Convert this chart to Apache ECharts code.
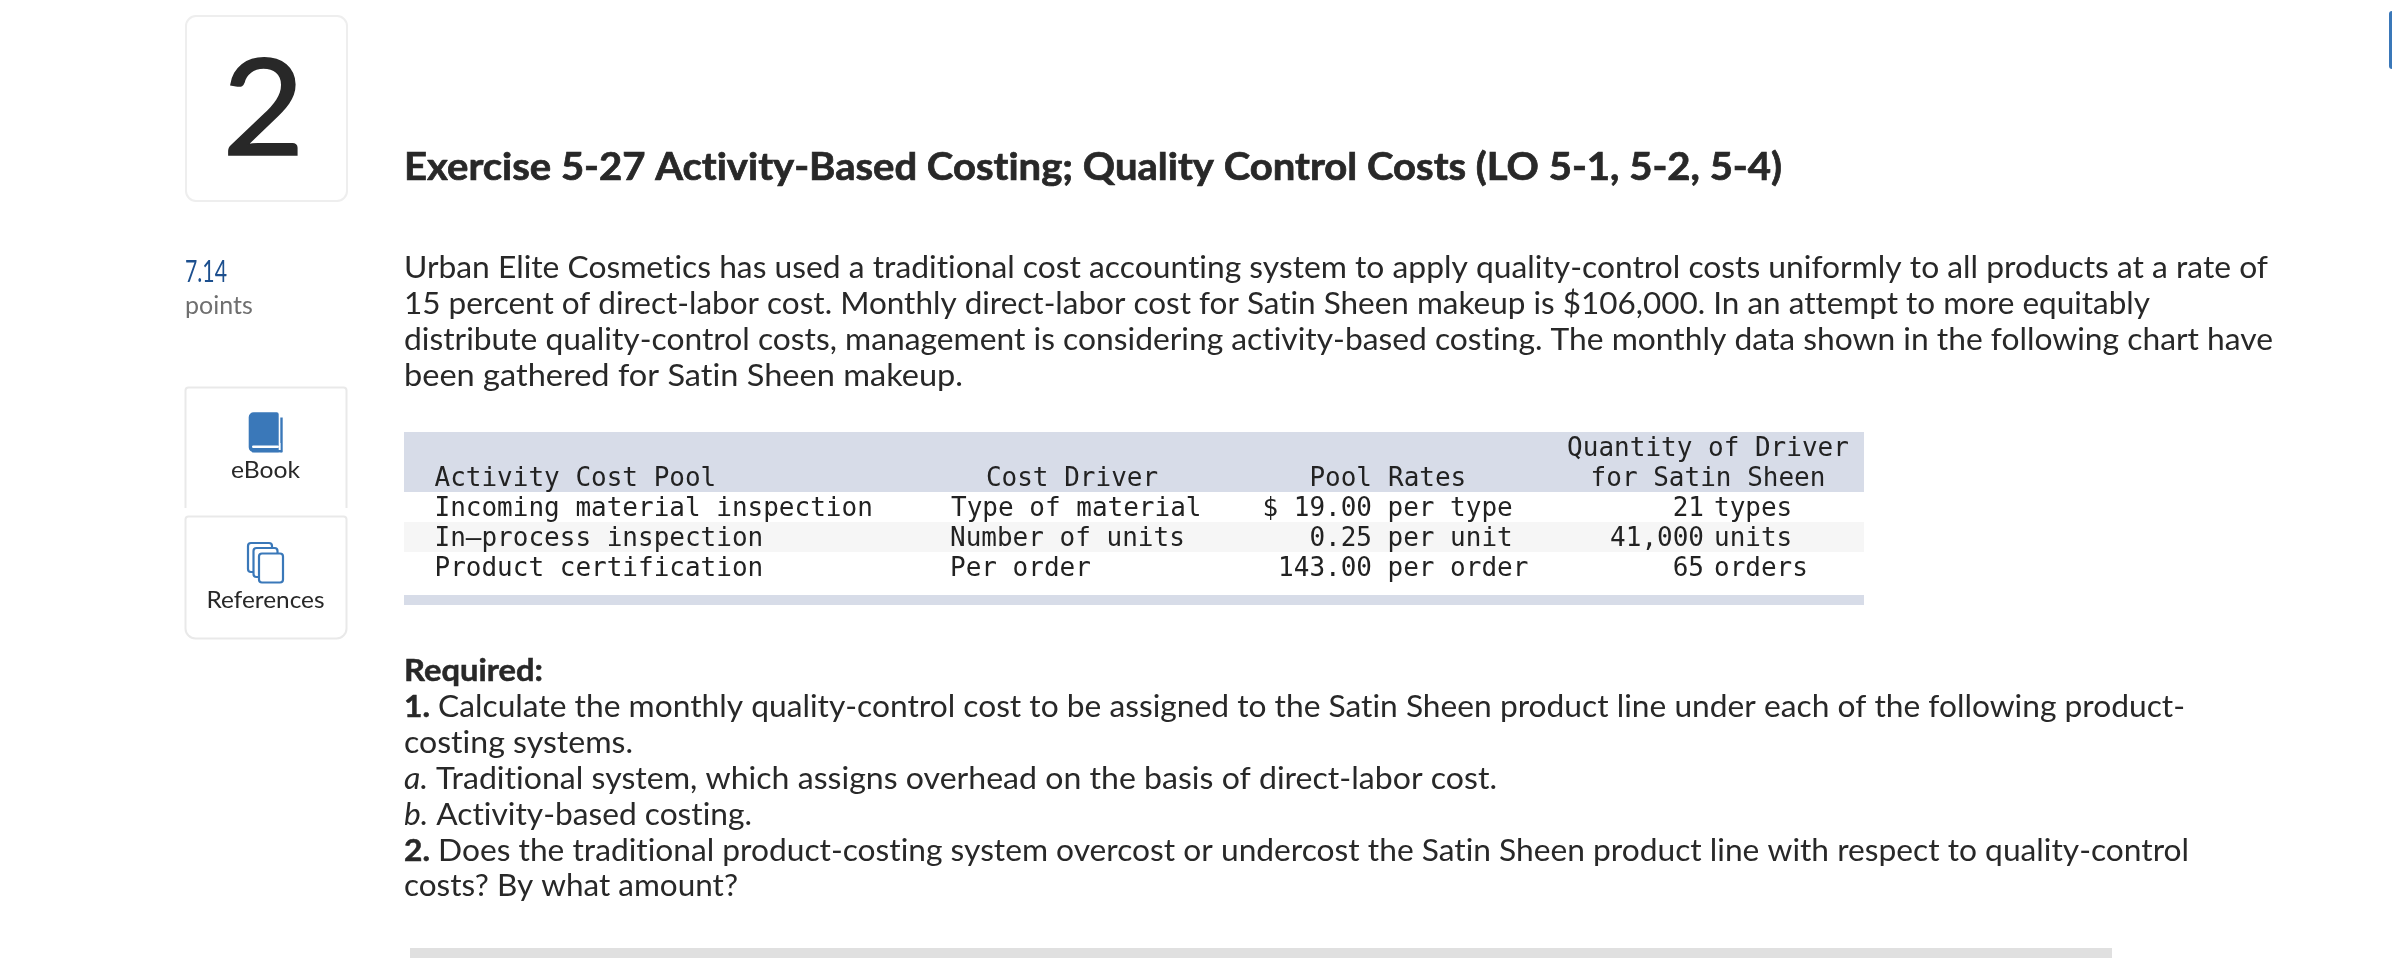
<!DOCTYPE html>
<html><head><meta charset="utf-8">
<style>html,body{margin:0;padding:0;background:#fff}#c{width:2392px;height:958px}</style>
<script src="https://cdn.jsdelivr.net/npm/echarts@6/dist/echarts.min.js"></script>
</head><body><div id="c"></div>
<script>
const questionNumber = '2';
const pointsValue = '7.14';
const pointsLabel = 'points';
const heading = 'Exercise 5-27 Activity-Based Costing; Quality Control Costs (LO 5-1, 5-2, 5-4)';
const bodyLines = [
  'Urban Elite Cosmetics has used a traditional cost accounting system to apply quality-control costs uniformly to all products at a rate of',
  '15 percent of direct-labor cost. Monthly direct-labor cost for Satin Sheen makeup is $106,000. In an attempt to more equitably',
  'distribute quality-control costs, management is considering activity-based costing. The monthly data shown in the following chart have',
  'been gathered for Satin Sheen makeup.'
];
const requiredLines = [
  [['Required:', 'b']],
  [['1.', 'b'], [' Calculate the monthly quality-control cost to be assigned to the Satin Sheen product line under each of the following product-', 'r']],
  [['costing systems.', 'r']],
  [['a.', 'i'], [' Traditional system, which assigns overhead on the basis of direct-labor cost.', 'r']],
  [['b.', 'i'], [' Activity-based costing.', 'r']],
  [['2.', 'b'], [' Does the traditional product-costing system overcost or undercost the Satin Sheen product line with respect to quality-control', 'r']],
  [['costs? By what amount?', 'r']]
];
const sideLabels = ['eBook', 'References'];
const headerPool = 'Activity Cost Pool';
const headerDriver = 'Cost Driver';
const headerRates = ['Pool', 'Rates'];
const headerQuantity = ['Quantity of Driver', 'for Satin Sheen'];
const activityPools = ['Incoming material inspection', 'In\u2013process inspection', 'Product certification'];
const costDrivers = ['Type of material', 'Number of units', 'Per order'];
const poolRates = ['$ 19.00', '0.25', '143.00'];
const rateUnits = ['per type', 'per unit', 'per order'];
const driverQuantities = ['21', '41,000', '65'];
const driverUnits = ['types', 'units', 'orders'];

/* the reference's typeface has no ti/tt ligatures: switch them off for every 2d context */
const origGetContext = HTMLCanvasElement.prototype.getContext;
HTMLCanvasElement.prototype.getContext = function (t, o) {
  const c = origGetContext.call(this, t, o);
  if (c && t === '2d') c.textRendering = 'optimizeSpeed';
  return c;
};

/* layout */
const SANS = 'Lato, "Open Sans", sans-serif';
const MONO = '"DejaVu Sans Mono", monospace';
const INK = '#282828';
const BLUE = '#3a78b9';
const bodyRights = [2268, 2150, 2273, 963];
const requiredRights = [543, 2185, 633, 1497, 752, 2189, 738];
const driverX = [951, 950, 950];
const cv = document.createElement('canvas').getContext('2d');
function baseOffset(font) {
  cv.font = font;
  cv.textBaseline = 'alphabetic';
  const a = cv.measureText('x').fontBoundingBoxAscent;
  cv.textBaseline = 'middle';
  const b = cv.measureText('x').fontBoundingBoxAscent;
  cv.textBaseline = 'alphabetic';
  return a - b;
}
function widthOf(text, font) { cv.font = font; cv.textBaseline = 'alphabetic'; return cv.measureText(text).width; }
function txt(text, x, base, font, fill, align, sx, strokeW) {
  const style = { text: text, font: font, fill: fill, align: align || 'left', verticalAlign: 'middle' };
  if (strokeW) { style.stroke = fill; style.lineWidth = strokeW; }
  return { type: 'text', x: x, y: base - baseOffset(font), scaleX: sx || 1, silent: true, style: style };
}
function fitLine(segs, x0, right, base, size) {
  const fonts = { r: `400 ${size}px ${SANS}`, b: `700 ${size}px ${SANS}`, i: `italic 400 ${size}px ${SANS}` };
  const total = segs.reduce((s, g) => s + widthOf(g[0], fonts[g[1]]), 0);
  const sx = (right - x0) / total;
  let x = x0; const out = [];
  segs.forEach(g => {
    out.push(txt(g[0], x, base, fonts[g[1]], INK, 'left', sx, g[1] === 'b' ? 0.5 : 0));
    x += widthOf(g[0], fonts[g[1]]) * sx;
  });
  return out;
}
function rect(x, y, w, h, fill, r, stroke, lw) {
  return { type: 'rect', silent: true, shape: { x: x, y: y, width: w, height: h, r: r || 0 },
    style: { fill: fill, stroke: stroke || null, lineWidth: lw || 0 } };
}
const els = [];
/* side cards */
els.push(rect(186, 16, 161, 185, '#fff', 10, '#eeeeee', 2));
els.push(txt(questionNumber, 263.5, 155, `400 134px ${SANS}`, INK, 'center', 1.06, 1.5));
const pvFont = `400 30px ${SANS}`;
els.push(txt(pointsValue, 185, 282, pvFont, '#1c4f8e', 'left', 42 / widthOf(pointsValue, pvFont)));
els.push(txt(pointsLabel, 185, 314, `400 25px ${SANS}`, '#6f6f6f'));
els.push(rect(185.5, 387.5, 161, 130, '#fff', [3, 3, 0, 0], '#e9e9e9', 2));
els.push(rect(180, 508, 172, 12, '#fff'));
els.push(rect(185.5, 516.5, 161, 122, '#fff', [3, 3, 10, 10], '#e9e9e9', 2));
/* book icon */
els.push(rect(248.7, 412.3, 30, 40, BLUE, [5, 2, 0, 5]));
els.push(rect(280.3, 417.5, 2.4, 34.8, BLUE));
els.push(rect(252, 450, 30, 2.4, BLUE));
els.push(rect(252, 445.5, 27, 2.6, '#fff', 1.3));
els.push(rect(279, 443, 1.5, 7, '#fff'));
/* pages icon */
[[248, 543, 24, 29], [253.5, 548, 24, 29], [259, 553.5, 24, 29]].forEach(p => {
  els.push(rect(p[0], p[1], p[2], p[3], '#fff', 3, BLUE, 2.2));
});
const sideFont = `400 24px ${SANS}`;
els.push(txt(sideLabels[0], 265.5, 478, sideFont, INK, 'center', 69 / widthOf(sideLabels[0], sideFont)));
els.push(txt(sideLabels[1], 265.5, 608, sideFont, INK, 'center', 118 / widthOf(sideLabels[1], sideFont)));
/* blue edge */
els.push(rect(2389, 11, 6, 58, BLUE, 3));
/* heading and prose */
const hFont = `700 38px ${SANS}`;
els.push(txt(heading, 404, 180, hFont, INK, 'left', 1378 / widthOf(heading, hFont), 0.7));
bodyLines.forEach((l, i) => fitLine([[l, 'r']], 404, bodyRights[i], 278 + 36 * i, 30.5).forEach(e => els.push(e)));
requiredLines.forEach((l, i) => fitLine(l, 404, requiredRights[i], 681 + 35.9 * i, 30.5).forEach(e => els.push(e)));
/* table */
const TF = `400 26px ${MONO}`;
const TC = '#222222';
els.push(rect(404, 432, 1460, 60, '#d7dce8'));
els.push(rect(404, 522, 1460, 30, '#f6f6f6'));
els.push(rect(404, 595, 1460, 10, '#d7dce8'));
els.push(txt(headerPool, 434.5, 486, TF, TC));
els.push(txt(headerDriver, 1072, 486, TF, TC, 'center'));
els.push(txt(headerRates[0], 1372, 486, TF, TC, 'right'));
els.push(txt(headerRates[1], 1388, 486, TF, TC));
els.push(txt(headerQuantity[0], 1708, 456, TF, TC, 'center'));
els.push(txt(headerQuantity[1], 1708, 486, TF, TC, 'center'));
activityPools.forEach((_, i) => {
  const b = 516 + 30 * i;
  els.push(txt(activityPools[i], 434.5, b, TF, TC));
  els.push(txt(costDrivers[i], driverX[i], b, TF, TC));
  els.push(txt(poolRates[i], 1372, b, TF, TC, 'right'));
  els.push(txt(rateUnits[i], 1387.5, b, TF, TC));
  els.push(txt(driverQuantities[i], 1704, b, TF, TC, 'right'));
  els.push(txt(driverUnits[i], 1714, b, TF, TC));
});
/* bottom rule */
els.push(rect(410, 948, 1702, 10, '#e0e0e0'));

const chart = echarts.init(document.getElementById('c'), null, { renderer: 'canvas' });
chart.setOption({ animation: false, backgroundColor: '#ffffff', graphic: { elements: els } });
</script></body></html>
